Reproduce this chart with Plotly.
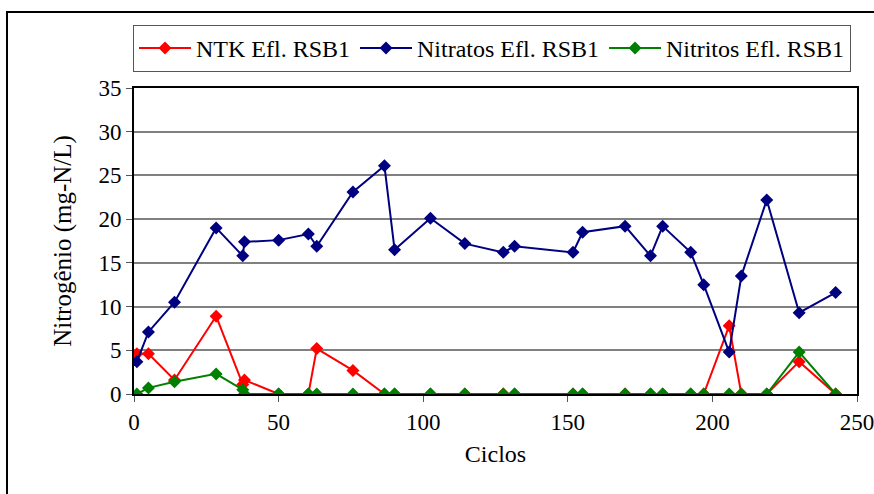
import plotly.graph_objects as go

ciclos = [1, 5, 14, 28.4, 37.6, 38.2, 50, 60.3, 63.2, 75.7, 86.6, 90.1, 102.5, 114.4,
          127.7, 131.6, 151.8, 155.1, 169.8, 178.6, 182.8, 192.5, 197, 205.8, 210,
          218.8, 230, 242.6]
ntk = [4.6, 4.6, 1.6, 8.9, 1.1, 1.6, 0, 0, 5.2, 2.7, 0, 0, 0, 0,
       0, 0, 0, 0, 0, 0, 0, 0, 0, 7.8, 0, 0, 3.7, 0]
nitratos = [3.7, 7.1, 10.5, 19.0, 15.8, 17.4, 17.6, 18.3, 16.9, 23.1, 26.1, 16.5, 20.1, 17.2,
            16.2, 16.9, 16.2, 18.5, 19.2, 15.8, 19.2, 16.2, 12.5, 4.8, 13.5, 22.2, 9.3, 11.6]
nitritos = [0, 0.7, 1.4, 2.3, 0.5, 0, 0, 0, 0, 0, 0, 0, 0, 0,
            0, 0, 0, 0, 0, 0, 0, 0, 0, 0, 0, 0, 4.8, 0]

series = [
    ("NTK Efl. RSB1", ntk, "#FF0000"),
    ("Nitratos Efl. RSB1", nitratos, "#000080"),
    ("Nitritos Efl. RSB1", nitritos, "#008000"),
]

FONT = "Times New Roman"
FS = 23

fig = go.Figure()
for name, vals, col in series:
    fig.add_trace(go.Scatter(
        x=ciclos, y=vals, name=name, mode="lines+markers",
        line=dict(color=col, width=2),
        marker=dict(symbol="diamond", size=10, color=col),
    ))

W, H = 874, 494
L, R, T, B = 134, 17, 88, 100
pw, ph = W - L - R, H - T - B

def px_x(p):
    return (p - L) / pw

def px_y(p):
    return (H - B - p) / ph

fig.update_layout(
    width=W, height=H,
    margin=dict(l=L, r=R, t=T, b=B),
    paper_bgcolor="white", plot_bgcolor="white",
    showlegend=True,
    legend=dict(
        orientation="h", x=px_x(133), y=px_y(25), xanchor="left", yanchor="top",
        bordercolor="#555555", borderwidth=1, bgcolor="white",
        font=dict(family=FONT, size=24, color="#000000"),
        itemwidth=52, traceorder="normal",
    ),
    xaxis=dict(
        range=[0, 250], tickvals=[0, 50, 100, 150, 200, 250],
        showgrid=False, zeroline=False, automargin=False, ticklabeloverflow="allow",
        showline=True, linecolor="black", linewidth=2, mirror=True,
        ticks="outside", ticklen=6, tickcolor="#555555", tickwidth=1,
        title=dict(text="Ciclos", standoff=12, font=dict(family=FONT, size=24, color="#000000")),
        tickfont=dict(family=FONT, size=FS, color="#000000"),
    ),
    yaxis=dict(
        range=[0, 35], tickvals=[0, 5, 10, 15, 20, 25, 30, 35],
        showgrid=True, gridcolor="#808080", gridwidth=1.5, zeroline=False, automargin=False,
        showline=True, linecolor="black", linewidth=2, mirror=True,
        ticks="outside", ticklen=6, tickcolor="#555555", tickwidth=1,
        title=dict(text="Nitrogênio (mg-N/L)", standoff=20, font=dict(family=FONT, size=25, color="#000000")),
        tickfont=dict(family=FONT, size=FS, color="#000000"),
    ),
    shapes=[dict(
        type="rect", xref="paper", yref="paper",
        x0=px_x(7), y0=px_y(600), x1=px_x(1000), y1=px_y(12),
        line=dict(color="black", width=2), fillcolor="rgba(0,0,0,0)", layer="below",
    )],
)

fig.write_html("out.html")
